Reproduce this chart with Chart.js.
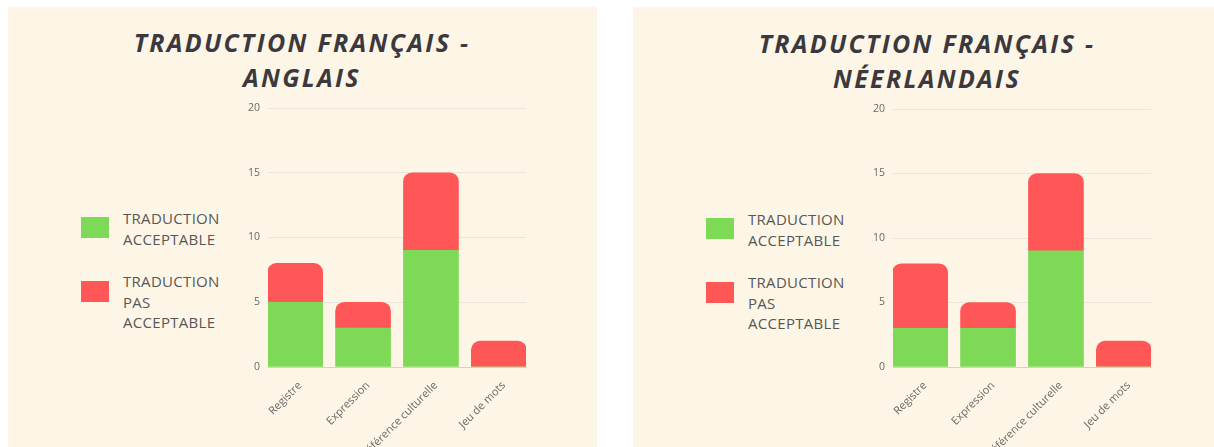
<!DOCTYPE html>
<html><head><meta charset="utf-8">
<script src="https://cdn.jsdelivr.net/npm/chart.js@4/dist/chart.umd.min.js"></script>
<style>
html,body{margin:0;padding:0;background:#fff;width:1214px;height:447px;overflow:hidden;position:relative;font-family:"Open Sans",sans-serif}
.panel{position:absolute;top:7px;height:440px;background:#fdf6e7}
.title{position:absolute;width:440px;text-align:center;font-style:italic;font-weight:700;font-size:25px;line-height:35px;letter-spacing:2.3px;color:#3b393d;font-family:"Open Sans",sans-serif;white-space:nowrap}
.legbox{position:absolute;width:28px;height:21px}
.legtxt{position:absolute;width:110px;font-size:15px;line-height:20.7px;letter-spacing:0.3px;color:#585756;font-family:"Open Sans",sans-serif}
canvas{position:absolute}
</style>
</head><body>
<script>
const categories = ['Registre', 'Expression', 'Référence culturelle', 'Jeu de mots'];
const yTicks = [0, 5, 10, 15, 20];
const seriesLabels = ['TRADUCTION ACCEPTABLE', 'TRADUCTION PAS ACCEPTABLE'];
const anglaisAcceptable = [5, 3, 9, 0];
const anglaisPasAcceptable = [3, 2, 6, 2];
const neerlandaisAcceptable = [3, 3, 9, 0];
const neerlandaisPasAcceptable = [5, 2, 6, 2];
const titleAnglais = 'TRADUCTION FRANÇAIS - ANGLAIS';
const titleNeerlandais = 'TRADUCTION FRANÇAIS - NÉERLANDAIS';
const colors = ['#7ed957', '#ff5757'];

function el(tag, cls, style, html) {
  const e = document.createElement(tag);
  if (cls) e.className = cls;
  Object.assign(e.style, style);
  if (html !== undefined) e.innerHTML = html;
  document.body.appendChild(e);
  return e;
}

function buildPanel(dx, dy, panelWidth, title, acc, pas) {
  el('div', 'panel', {left: (8 + dx) + 'px', width: panelWidth + 'px'});
  const parts = title.split(' - ');
  el('div', 'title', {left: (302 + dx - 220) + 'px', top: (25 + dy) + 'px'}, parts[0] + ' -<br>' + parts[1]);
  const legTops = [208, 271];
  const boxTops = [217, 281];
  seriesLabels.forEach((lab, i) => {
    el('div', 'legbox', {left: (81 + dx) + 'px', top: (boxTops[i] + dy) + 'px', background: colors[i]});
    el('div', 'legtxt', {left: (123 + dx) + 'px', top: (legTops[i] + dy) + 'px'}, lab);
  });
  const cv = el('canvas', '', {left: (208 + dx) + 'px', top: '7px'});
  cv.width = 340; cv.height = 440;
  new Chart(cv, {
    type: 'bar',
    data: {
      datasets: [
        {label: seriesLabels[0], data: acc.map((v, i) => ({x: i, y: v})), backgroundColor: colors[0], borderRadius: 0, barThickness: 55},
        {label: seriesLabels[1], data: pas.map((v, i) => ({x: i, y: v})), backgroundColor: colors[1],
         borderRadius: {topLeft: 9, topRight: 9, bottomLeft: 0, bottomRight: 0}, barThickness: 55}
      ]
    },
    options: {
      responsive: false, animation: false,
      layout: {padding: {left: 0, right: 22, top: 101 + dy, bottom: 0}},
      plugins: {legend: {display: false}, title: {display: false}, tooltip: {enabled: false}},
      scales: {
        x: {
          type: 'linear', stacked: true, min: -0.4, max: 3.4, offset: false,
          grid: {display: false, offset: false}, border: {display: true, color: '#d5d0c8', width: 1},
          afterBuildTicks: s => { s.ticks = categories.map((c, i) => ({value: i})); },
          ticks: {callback: v => categories[v], minRotation: 45, maxRotation: 45, autoSkip: false,
                  font: {family: 'Open Sans', size: 11}, color: '#6a6764', padding: 4, labelOffset: 5},
          afterFit: s => { s.height = 80; }
        },
        y: {
          stacked: true, min: 0, max: 20,
          afterBuildTicks: s => { s.ticks = yTicks.map(v => ({value: v})); },
          grid: {color: '#ece6da', drawTicks: false, lineWidth: 1},
          border: {display: false},
          ticks: {padding: 8, font: {family: 'Open Sans', size: 10.5}, color: '#6a6764'},
          afterFit: s => { s.width = 60; }
        }
      }
    }
  });
}

buildPanel(0, 0, 589, titleAnglais, anglaisAcceptable, anglaisPasAcceptable);
buildPanel(625, 1, 600, titleNeerlandais, neerlandaisAcceptable, neerlandaisPasAcceptable);
</script>
</body></html>
